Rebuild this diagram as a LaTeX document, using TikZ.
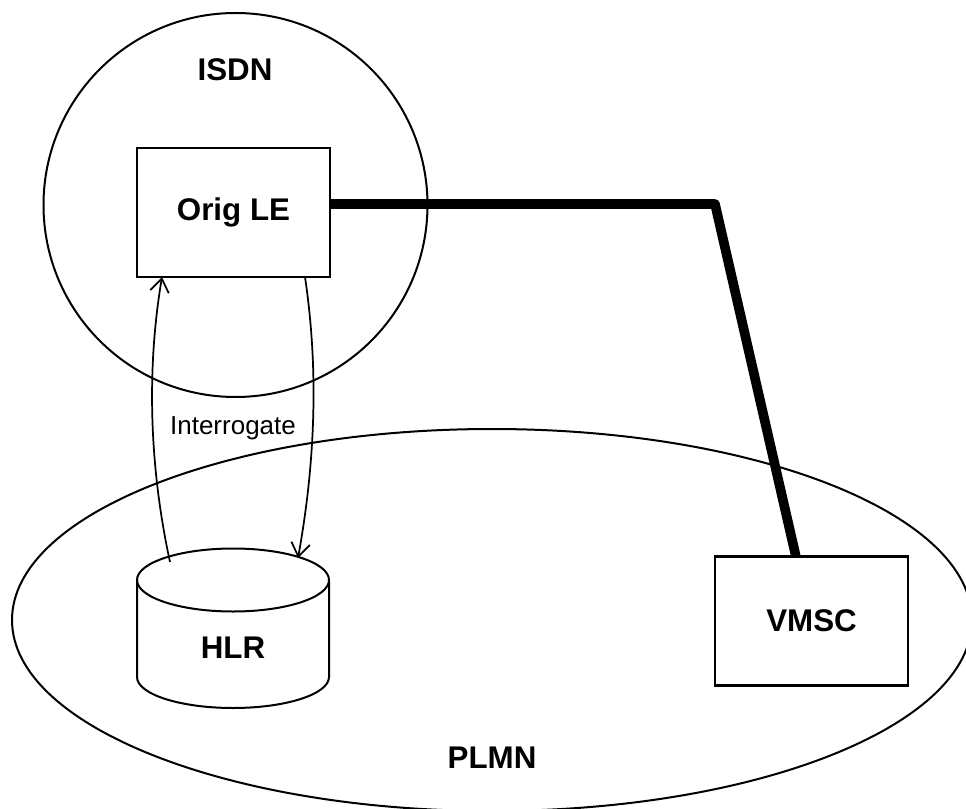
\documentclass[tikz,border=0pt]{standalone}
\usepackage{fontspec}
\setmainfont{Liberation Sans}
\usetikzlibrary{arrows.meta}
\begin{document}
\begin{tikzpicture}[x=0.75pt,y=-0.75pt,
  boxnode/.style={draw,line width=1.6pt,minimum width=144.75pt,minimum height=96.75pt,inner sep=0pt},
  biglabel/.style={font=\fontsize{23.5}{28}\selectfont\bfseries},
  smalllabel/.style={font=\fontsize{19.5}{23}\selectfont},
  outline/.style={line width=1.5pt},
  trunk/.style={line width=7.2pt,line join=round,line cap=butt},
  msg/.style={line width=1.3pt,-{Straight Barb[length=10pt,width=14pt,line width=1.3pt]}}
]
\useasboundingbox (0,0) rectangle (966,809);
% PLMN ellipse and ISDN circle
\draw[outline] (492,620) ellipse [x radius=480, y radius=191];
\draw[outline] (235.5,205) circle [radius=192];
% labels of networks
\node[biglabel] (isdnlabel) at (235,70) {ISDN};
\node[biglabel] (plmnlabel) at (492,758) {PLMN};
% boxes
\node[boxnode,biglabel] (orig) at (233.5,212.5) {Orig LE};
\node[boxnode,biglabel] (vmsc) at (811.5,621) {VMSC};
% HLR cylinder
\draw[outline] (137,580) -- (137,677)
  .. controls (137,694.1) and (180,708) .. (233,708)
  .. controls (286,708) and (329,694.1) .. (329,677)
  -- (329,580);
\draw[outline] (233,580) ellipse [x radius=96, y radius=31.5];
\node[biglabel] (hlr) at (233,648) {HLR};
% thick trunk line
\coordinate (corner) at (715,204);
\coordinate (vtop) at (796,557);
\draw[trunk] (orig.east |- corner) -- (corner) -- (vtop);
% interrogate arrows
\coordinate (hlrup) at (170,562);
\coordinate (origin1) at (162,277);
\coordinate (origout) at (305,277);
\coordinate (hlrin) at (298,558);
\draw[msg] (hlrup) .. controls (150,470) and (146,372) .. (origin1);
\draw[msg] (origout) .. controls (319,371) and (315,464) .. (hlrin);
\node[smalllabel] (interr) at (233,428) {Interrogate};
\end{tikzpicture}
\end{document}
